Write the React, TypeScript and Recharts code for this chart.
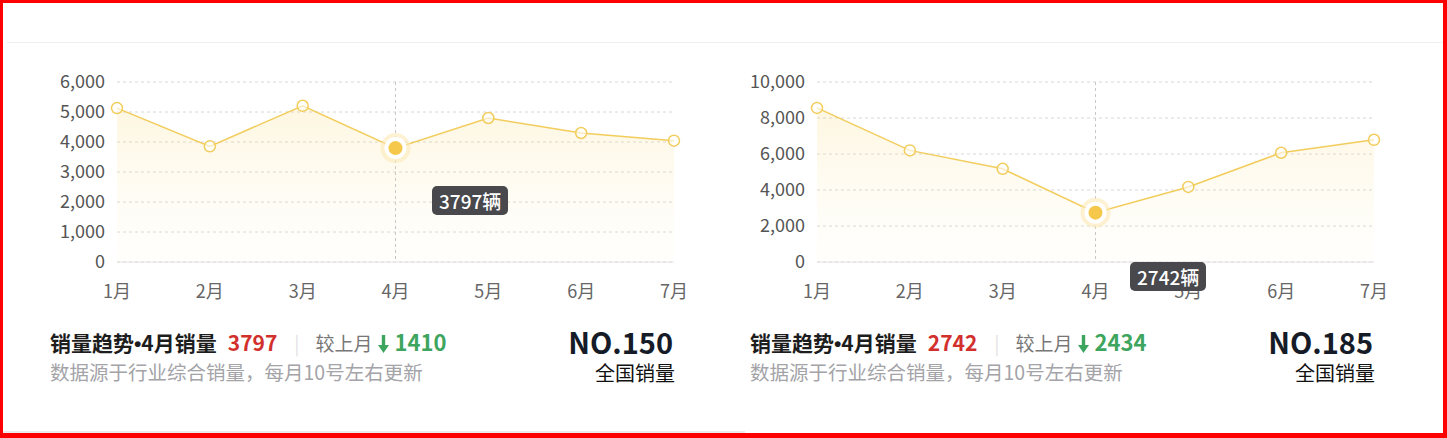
import React from 'react';
import { ComposedChart, Area, XAxis, YAxis, CartesianGrid, Tooltip } from 'recharts';

const months = ['1月', '2月', '3月', '4月', '5月', '6月', '7月'];
const leftSales = [5130, 3855, 5207, 3797, 4800, 4300, 4045];
const rightSales = [8560, 6200, 5176, 2742, 4170, 6070, 6790];
const leftTicks = [0, 1000, 2000, 3000, 4000, 5000, 6000];
const rightTicks = [0, 2000, 4000, 6000, 8000, 10000];

const FONT = '"Noto Sans CJK SC", "Noto Sans", sans-serif';
const LINE = '#f2cd5c';
const GREEN = '#3da55e';

const ActiveDot = (props: any) => {
  const { cx, cy } = props;
  return (
    <g>
      <circle cx={cx} cy={cy} r={15} fill="#fbe9b8" opacity={0.6} />
      <circle cx={cx} cy={cy} r={11} fill="#fff" />
      <circle cx={cx} cy={cy} r={7} fill="#f5c84c" />
    </g>
  );
};

const TipBox = ({ payload }: any) => {
  if (!payload || !payload.length) return null;
  return (
    <div style={{
      background: '#48484d',
      color: '#fff',
      borderRadius: 5,
      padding: '0 7px',
      fontSize: 19,
      fontWeight: 500,
      lineHeight: '29px',
      fontFamily: FONT,
      whiteSpace: 'nowrap',
    }}>
      {payload[0].value}辆
    </div>
  );
};

const DownArrow = () => (
  <svg width={11} height={18} viewBox="0 0 11 18" style={{ marginLeft: 6, marginRight: 5, verticalAlign: '-2px' }}>
    <rect x={3.8} y={0} width={3.4} height={11} fill={GREEN} />
    <polygon points="0,10 11,10 5.5,18" fill={GREEN} />
  </svg>
);

interface CardProps {
  id: string;
  left: number;
  sales: number[];
  ticks: number[];
  tipPos: { x: number; y: number };
  month: string;
  change: number;
  rank: number;
}

const SalesCard = ({ id, left, sales, ticks, tipPos, month, change, rank }: CardProps) => {
  const data = months.map((m, i) => ({ name: m, value: sales[i] }));
  const current = sales[3];
  return (
    <div style={{ position: 'absolute', left, top: 0, width: 700, height: 430 }}>
      <div style={{ position: 'absolute', left: 40, top: 60 }}>
        <ComposedChart width={660} height={250} data={data} margin={{ top: 22, right: 26, left: 0, bottom: 0 }}>
          <defs>
            <linearGradient id={id} x1="0" y1="0" x2="0" y2="1">
              <stop offset="0%" stopColor="#f8d56e" stopOpacity={0.35} />
              <stop offset="100%" stopColor="#fff8e0" stopOpacity={0.15} />
            </linearGradient>
          </defs>
          <CartesianGrid vertical={false} stroke="#d6d6d6" strokeDasharray="3 3" />
          <XAxis
            dataKey="name"
            axisLine={{ stroke: '#e3e3e3' }}
            tickLine={false}
            tickMargin={17}
            height={48}
            tick={{ fontSize: 18, fill: '#666', fontFamily: FONT }}
          />
          <YAxis
            width={77}
            domain={[0, ticks[ticks.length - 1]]}
            ticks={ticks}
            axisLine={false}
            tickLine={false}
            tickMargin={6}
            tickFormatter={(v: number) => v.toLocaleString('en-US')}
            tick={{ fontSize: 18, fill: '#555', fontFamily: FONT }}
          />
          <Tooltip
            defaultIndex={3}
            active={true}
            position={tipPos}
            cursor={{ stroke: '#c8c8c8', strokeDasharray: '3 3', strokeWidth: 1 }}
            content={<TipBox />}
            isAnimationActive={false}
          />
          <Area
            type="linear"
            dataKey="value"
            stroke={LINE}
            strokeWidth={1.5}
            fill={`url(#${id})`}
            dot={{ r: 5.5, fill: '#fff', stroke: LINE, strokeWidth: 1.5 }}
            activeDot={<ActiveDot />}
            isAnimationActive={false}
          />
        </ComposedChart>
      </div>
      <div style={{ position: 'absolute', left: 50, top: 326, fontFamily: FONT, fontSize: 21, lineHeight: '30px', whiteSpace: 'nowrap' }}>
        <span style={{ fontWeight: 700, color: '#1d1d1d' }}>
          销量趋势<span style={{ fontFamily: '"Liberation Sans", sans-serif' }}>•</span>{month}销量
        </span>
        <span style={{ fontWeight: 700, color: '#d2302c', marginLeft: 11 }}>{current}</span>
        <span style={{ color: '#e2e2e2', margin: '0 16px 0 17px', fontSize: 19 }}>|</span>
        <span style={{ color: '#777', fontSize: 19 }}>较上月</span>
        <DownArrow />
        <span style={{ color: GREEN, fontWeight: 700, fontSize: 22 }}>{change}</span>
      </div>
      <div style={{ position: 'absolute', left: 50, top: 357, fontFamily: FONT, fontSize: 19.5, lineHeight: '30px', color: '#a3a3a8', whiteSpace: 'nowrap' }}>
        数据源于行业综合销量，每月10号左右更新
      </div>
      <div style={{ position: 'absolute', right: 27, top: 322, fontFamily: FONT, fontSize: 29, fontWeight: 700, lineHeight: '38px', color: '#161b28', textAlign: 'right' }}>
        NO.{rank}
      </div>
      <div style={{ position: 'absolute', right: 25, top: 359, fontFamily: FONT, fontSize: 20, lineHeight: '28px', color: '#111', textAlign: 'right' }}>
        全国销量
      </div>
    </div>
  );
};

export default function App() {
  return (
    <div style={{ position: 'relative', width: 1447, height: 438, boxSizing: 'border-box', background: '#fff', overflow: 'hidden' }}>
      <style>{'body{margin:0;background:#fff}'}</style>
      <div style={{ position: 'absolute', left: 7, right: 4, top: 42, height: 1, background: '#f0f0f0' }} />
      <div style={{ position: 'absolute', left: 0, width: 745, top: 431, height: 2, background: '#ececf0' }} />
      <SalesCard id="gl" left={0} sales={leftSales} ticks={leftTicks} tipPos={{ x: 392, y: 126 }} month="4月" change={1410} rank={150} />
      <SalesCard id="gr" left={700} sales={rightSales} ticks={rightTicks} tipPos={{ x: 390, y: 202 }} month="4月" change={2434} rank={185} />
      <div style={{ position: 'absolute', inset: 0, borderStyle: 'solid', borderColor: '#ff0000', borderWidth: '3px 4px 5px 3px', pointerEvents: 'none' }} />
    </div>
  );
}
